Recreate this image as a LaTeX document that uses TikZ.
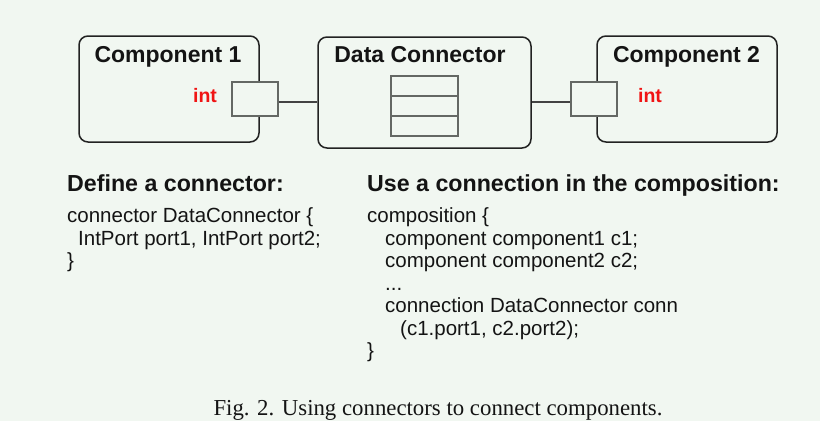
\documentclass[tikz,border=0pt]{standalone}
\usepackage{fontspec}
\setmainfont{Liberation Serif}
\setsansfont{Liberation Sans}
\definecolor{bgc}{RGB}{241,247,241}
\definecolor{boxline}{RGB}{34,34,34}
\definecolor{portline}{RGB}{100,104,100}
\definecolor{intred}{RGB}{240,20,20}
\begin{document}
\begin{tikzpicture}[x=1pt,y=-1pt,
  compbox/.style={draw=boxline,line width=1.5pt,rounded corners=9pt,fill=bgc,inner sep=0pt},
  portbox/.style={draw=portline,line width=1.4pt,fill=bgc,minimum width=46pt,minimum height=34pt,inner sep=0pt},
  cell/.style={draw=portline,line width=1.4pt,minimum width=67pt,minimum height=20pt,inner sep=0pt},
  wire/.style={draw=boxline!85,line width=1.1pt},
  title/.style={font=\sffamily\bfseries\fontsize{23}{26}\selectfont,anchor=base,inner sep=0pt,text=black!92},
  inttxt/.style={font=\sffamily\bfseries\fontsize{19.5}{22}\selectfont,anchor=base,inner sep=0pt,text=intred},
  head/.style={font=\sffamily\bfseries\fontsize{23.2}{26}\selectfont,anchor=base west,inner sep=0pt,text=black!92},
  code/.style={font=\sffamily\fontsize{20.5}{22.5}\selectfont,anchor=base west,inner sep=0pt,text=black!92},
  captxt/.style={font=\rmfamily\fontsize{22.8}{26}\selectfont,anchor=base,inner sep=0pt,text=black!92}]
\fill[bgc] (0,0) rectangle (820,421);
\useasboundingbox (0,0) rectangle (820,421);
% boxes
\node[compbox,minimum width=180pt,minimum height=106pt] (c1) at (169,89) {};
\node[compbox,minimum width=213pt,minimum height=111pt] (dc) at (424.5,92.5) {};
\node[compbox,minimum width=180pt,minimum height=106pt] (c2) at (687,89) {};
% ports
\node[portbox] (p1) at (255,99) {};
\node[portbox] (p2) at (594,99) {};
% stack
\node[cell] (s1) at (424.5,86) {};
\node[cell] (s2) at (424.5,106) {};
\node[cell] (s3) at (424.5,126) {};
% wires
\draw[wire] ([yshift=-3pt]p1.east) -- ([yshift=-3pt]p1.east -| dc.west);
\draw[wire] ([yshift=-3pt]dc.east |- p2.west) -- ([yshift=-3pt]p2.west);
% titles
\node[title] (t1) at (168,62.5) {Component 1};
\node[title] (t2) at (420,62.5) {Data Connector};
\node[title] (t3) at (686.5,62.5) {Component 2};
\node[inttxt] (i1) at (205,102) {int};
\node[inttxt] (i2) at (650,102) {int};
% left text
\node[head] (h1) at (67,191.5) {Define a connector:};
\node[code] (l1) at (67,222.5) {connector DataConnector \{};
\node[code] (l2) at (78,245) {IntPort port1, IntPort port2;};
\node[code] (l3) at (67,267.5) {\}};
% right text
\node[head] (h2) at (367,191.5) {Use a connection in the composition:};
\node[code] (r1) at (367,222.5) {composition \{};
\node[code] (r2) at (385,245) {component component1 c1;};
\node[code] (r3) at (385,267.5) {component component2 c2;};
\node[code] (r4) at (385,290) {...};
\node[code] (r5) at (385,312.5) {connection DataConnector conn};
\node[code] (r6) at (400,335) {(c1.port1, c2.port2);};
\node[code] (r7) at (367,357.5) {\}};
% caption
\node[captxt] (fc) at (438,415) {Fig. 2. Using connectors to connect components.};
\end{tikzpicture}
\end{document}
